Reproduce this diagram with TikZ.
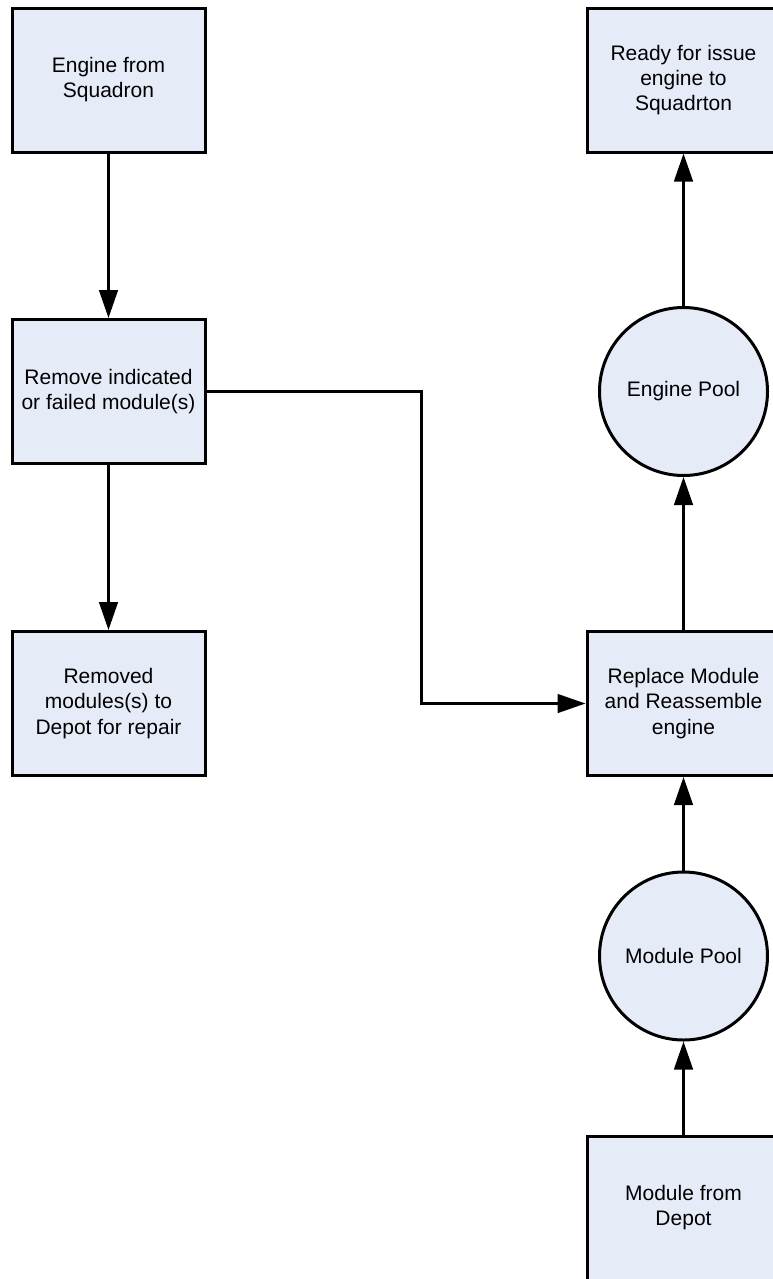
\documentclass[tikz,border=0pt]{standalone}
\usepackage{fontspec}
\setmainfont{Liberation Sans}
\usetikzlibrary{arrows.meta}
\definecolor{boxfill}{RGB}{230,236,247}
\tikzset{
  box/.style={draw=black, fill=boxfill, line width=2.25pt, minimum width=144.75pt, minimum height=108pt,
    align=center, inner sep=0pt, font=\fontsize{15.75}{18.8}\selectfont},
  pool/.style={draw=black, fill=boxfill, line width=2.25pt, circle, minimum size=126pt,
    align=center, inner sep=0pt, font=\fontsize{15.75}{18.8}\selectfont},
  conn/.style={draw=black, line width=1.9pt},
  arr/.style={conn, -{Triangle[length=21pt,width=14pt]}}
}
\begin{document}
\begin{tikzpicture}[x=0.75pt, y=-0.75pt]
\clip (0,0) rectangle (773,1279);
\fill[white] (0,0) rectangle (773,1279);
\node[box] (b1) at (108.5,80) {Engine from\\Squadron};
\node[box] (b2) at (108.5,391.5) {Remove indicated\\or failed module(s)};
\node[box] (b3) at (108.5,703.5) {Removed\\modules(s) to\\Depot for repair};
\node[box] (r1) at (683.5,80) {Ready for issue\\engine to\\Squadrton};
\node[pool] (c1) at (683.5,391.5) {Engine Pool};
\node[box] (r2) at (683.5,703.5) {Replace Module\\and Reassemble\\engine};
\node[pool] (c2) at (683.5,956) {Module Pool};
\node[box] (r3) at (683.5,1208) {Module from\\Depot};
\draw[arr] (b1.south) -- (b2.north);
\draw[arr] (b2.south) -- (b3.north);
\draw[arr] (b2.east) -- ++(215,0) coordinate (bend) |- (r2.west);
\draw[arr] (r3.north) -- (c2.south);
\draw[arr] (c2.north) -- (r2.south);
\draw[arr] (r2.north) -- (c1.south);
\draw[arr] (c1.north) -- (r1.south);
\end{tikzpicture}
\end{document}
